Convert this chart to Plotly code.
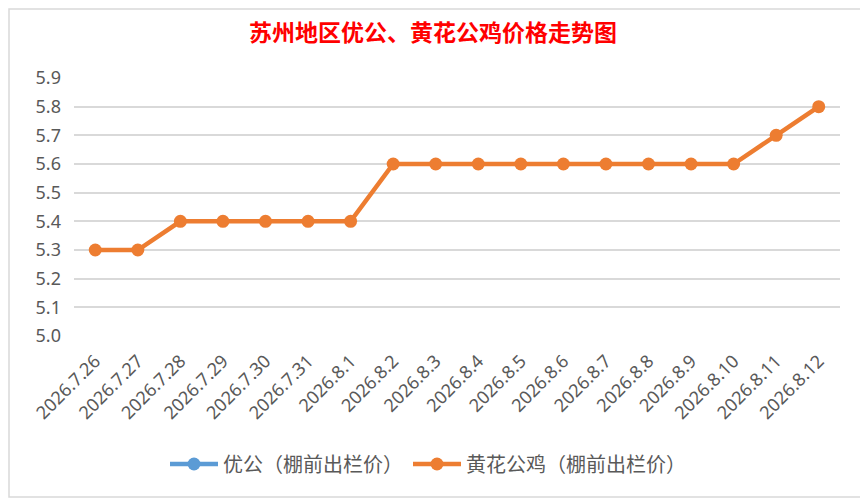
import plotly.graph_objects as go

# ===================================================================
# DATA
# ===================================================================
dates = [
    "2026.7.26", "2026.7.27", "2026.7.28", "2026.7.29", "2026.7.30",
    "2026.7.31", "2026.8.1", "2026.8.2", "2026.8.3", "2026.8.4",
    "2026.8.5", "2026.8.6", "2026.8.7", "2026.8.8", "2026.8.9",
    "2026.8.10", "2026.8.11", "2026.8.12",
]
# blue series is not visible in the picture (hidden / no data)
yougong = [None] * len(dates)
huanghua = [5.3, 5.3, 5.4, 5.4, 5.4, 5.4, 5.4, 5.6, 5.6, 5.6,
            5.6, 5.6, 5.6, 5.6, 5.6, 5.6, 5.7, 5.8]
y_ticks = [5.0, 5.1, 5.2, 5.3, 5.4, 5.5, 5.6, 5.7, 5.8, 5.9]

# page body has an 8px margin, so everything is placed 8px up/left
OFF = 8
W, H = 868, 500
L, R, T, B = 74 - OFF, W - 840 + OFF, 78 - OFF, H - 336 + OFF
pw, ph = W - L - R, H - T - B

fig = go.Figure()

fig.add_trace(
    go.Scatter(
        x=dates,
        y=yougong,
        mode="lines+markers",
        name="优公（棚前出栏价）",
        line={"color": "#5B9BD5", "width": 4.5},
        marker={"color": "#5B9BD5", "size": 13},
    )
)
fig.add_trace(
    go.Scatter(
        x=dates,
        y=huanghua,
        mode="lines+markers",
        name="黄花公鸡（棚前出栏价）",
        line={"color": "#ED7D31", "width": 4.5},
        marker={"color": "#ED7D31", "size": 13},
    )
)

# chart border
fig.add_shape(
    type="rect",
    xref="paper",
    yref="paper",
    x0=(1 - L) / pw,
    x1=(862 - OFF - L) / pw,
    y0=(H - B - (497 - OFF)) / ph,
    y1=(H - B - 1) / ph,
    line={"color": "#D9D9D9", "width": 1.5},
    layer="below",
)

fig.update_layout(
    width=W,
    height=H,
    margin=dict(l=L, r=R, t=T, b=B, autoexpand=False),
    paper_bgcolor="white",
    plot_bgcolor="white",
    font={"family": "Noto Sans CJK SC, Noto Sans", "color": "#595959"},
    title={
        "text": "苏州地区优公、黄花公鸡价格走势图",
        "x": (433 - OFF) / W,
        "xanchor": "center",
        "y": 1 - (33 - OFF) / H,
        "yanchor": "middle",
        "font": {"family": "Noto Sans CJK SC", "size": 23, "color": "#FF0000",
                 "weight": "bold"},
    },
    legend={
        "orientation": "h",
        "x": (428 - OFF - L) / pw,
        "xanchor": "center",
        "y": (H - B - (464 - OFF)) / ph,
        "yanchor": "middle",
        "itemwidth": 48,
        "font": {"size": 20, "color": "#595959"},
    },
    showlegend=True,
)

fig.update_xaxes(
    type="category",
    range=[-0.5, len(dates) - 0.5],
    tickangle=-45,
    tickfont={"family": "Noto Sans", "size": 18, "color": "#595959"},
    showgrid=False,
    showline=False,
    ticks="",
    ticklabelstandoff=10,
    automargin=False,
)
fig.update_yaxes(
    range=[5.0, 5.9],
    tickvals=y_ticks,
    tickformat=".1f",
    tickfont={"family": "Noto Sans", "size": 18, "color": "#595959"},
    gridcolor="#D9D9D9",
    gridwidth=2,
    zeroline=False,
    showline=False,
    ticks="",
    ticklabelstandoff=12,
    automargin=False,
)

fig.write_html("out.html")
